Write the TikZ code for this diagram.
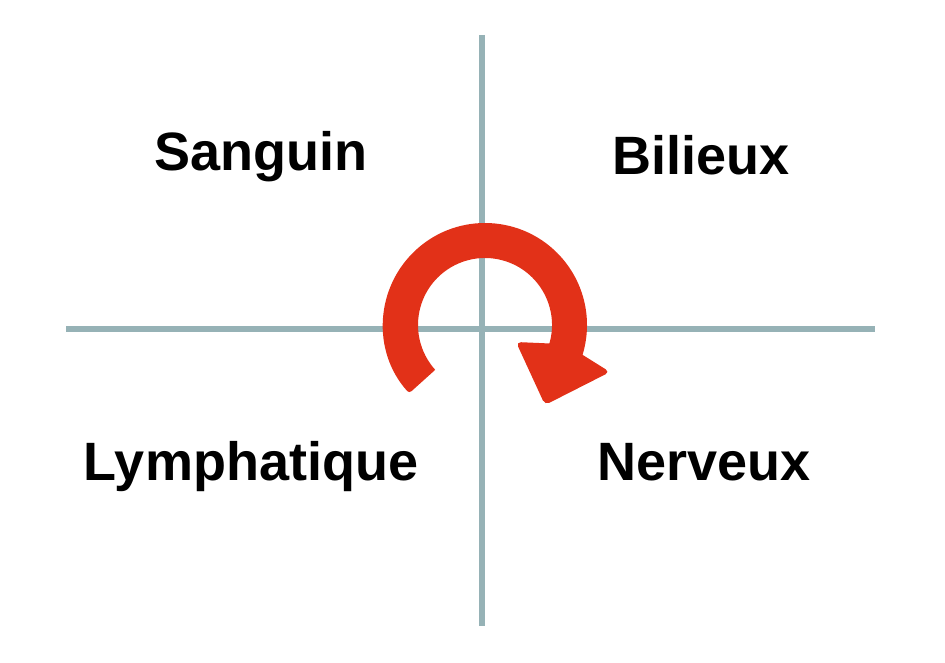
\documentclass[tikz,border=0pt]{standalone}
\usepackage{fontspec}
\setmainfont{Liberation Sans}
\usetikzlibrary{calc}
\definecolor{axisgray}{RGB}{150,178,182}
\definecolor{arrowred}{RGB}{226,49,24}

\begin{document}
\begin{tikzpicture}[x=1pt,y=1pt,
  axis line/.style={draw=axisgray,line width=6pt},
  temper/.style={font=\bfseries\fontsize{54}{60}\selectfont,anchor=base,inner sep=0pt}]
  \useasboundingbox (0,0) rectangle (945,662);
  \coordinate (o) at (485,337);

  % axes
  \coordinate (top) at (482,627);
  \coordinate (bottom) at (482,36);
  \coordinate (left) at (66,332.5);
  \coordinate (right) at (875,332.5);
  \path[axis line] (top) -- (bottom);
  \path[axis line] (left) -- (right);

  % temperaments
  \node[temper] (sanguin) at (261,491) {Sanguin};
  \node[temper] (bilieux) at (701,487) {Bilieux};
  \node[temper] (lymph) at (251,182) {Lymphatique};
  \node[temper] (nerveux) at (704,182) {Nerveux};

  % turning arrow
  \fill[arrowred]
    ($(o)+(222:102)$) arc[start angle=222,end angle=-17,radius=102]
    [rounded corners=5pt] -- (610,290) -- (545,257) -- (516,320)
    [sharp corners] -- ($(o)+(-16:67)$)
    arc[start angle=-16,end angle=222,radius=67]
    [rounded corners=3pt] -- cycle;
\end{tikzpicture}
\end{document}
